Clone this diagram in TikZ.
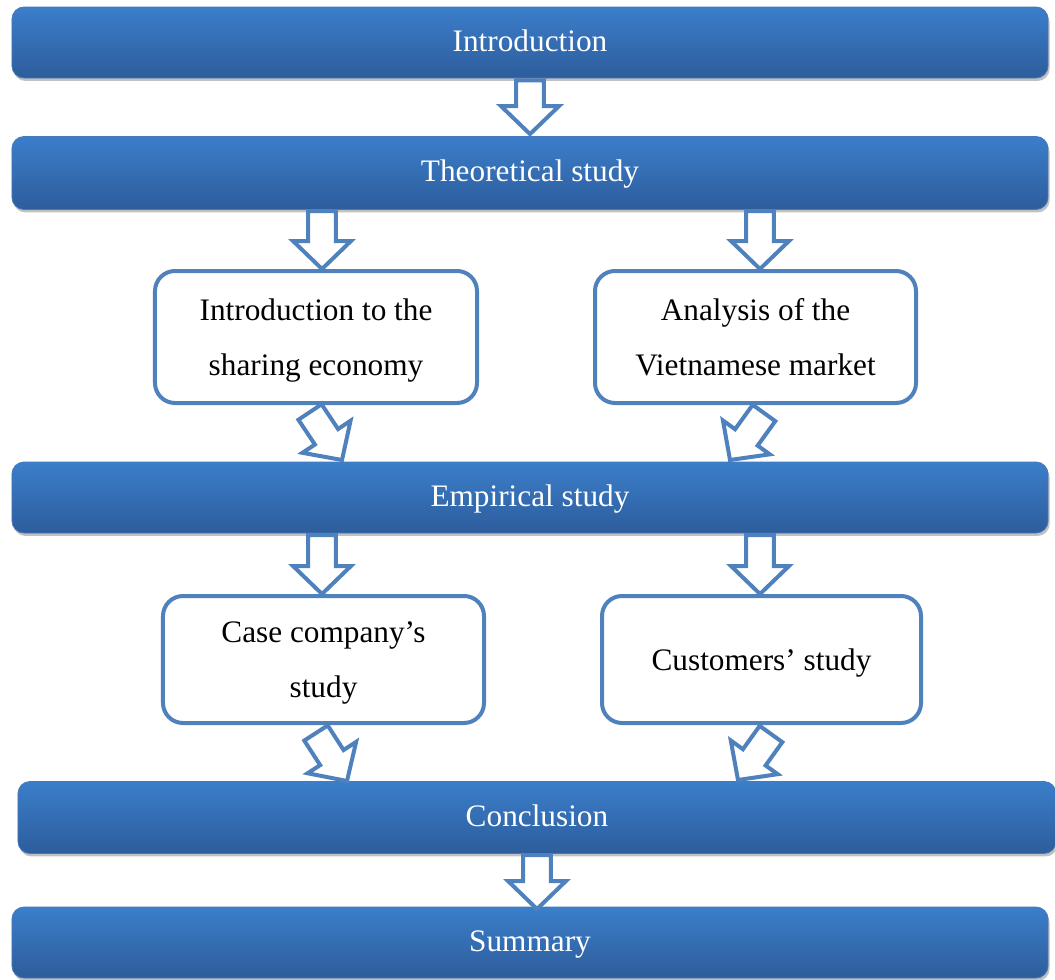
\documentclass[tikz,border=0pt]{standalone}
\usepackage{fontspec}
\setmainfont{Liberation Serif}
\usetikzlibrary{calc,shadows}
\definecolor{bartop}{RGB}{59,126,202}
\definecolor{barbot}{RGB}{45,93,156}
\definecolor{barline}{RGB}{70,120,185}
\definecolor{boxline}{RGB}{79,129,189}
\tikzset{
  bar/.style={rounded corners=12bp, draw=barline, line width=0.8bp,
    top color=bartop, bottom color=barbot, text=white,
    font=\fontsize{31.4}{38}\selectfont, minimum width=1036bp,
    minimum height=71bp, inner sep=0pt, text height=21bp, text depth=4bp,
    drop shadow={shadow xshift=1.5pt, shadow yshift=-3pt, opacity=0.35, fill=black!70}},
  stagebox/.style={rounded corners=20bp, draw=boxline, line width=4bp, fill=white,
    align=center, font=\fontsize{31.4}{55}\selectfont, inner sep=0pt, text depth=0bp},
  barrow/.style={draw=boxline, line width=4bp, fill=white, line join=miter}
}
\newcommand\blockarr[2]{%
  \coordinate (ah) at ($(#2)!28pt!(#1)$);
  \draw[barrow] ($(#1)!14pt!90:(#2)$) -- ($(ah)!14pt!-90:(#1)$) -- ($(ah)!29pt!-90:(#1)$)
    -- (#2) -- ($(ah)!29pt!90:(#1)$) -- ($(ah)!14pt!90:(#1)$) -- ($(#1)!14pt!-90:(#2)$) -- cycle;
}
\begin{document}
\begin{tikzpicture}[x=1bp,y=-1bp]
\useasboundingbox (0,0) rectangle (1055,980);
\node[bar] (intro) at (530,42.5) {Introduction};
\node[bar, minimum height=73bp] (theo) at (530,173) {Theoretical study};
\node[bar] (emp) at (530,497.5) {Empirical study};
\node[bar, minimum width=1038bp, minimum height=72bp] (concl) at (537,817.5) {Conclusion};
\node[bar] (summ) at (530,942.5) {Summary};

\node[stagebox, minimum width=322bp, minimum height=132bp] (b1) at (316,337) {Introduction to the\\sharing economy};
\node[stagebox, minimum width=321bp, minimum height=132bp] (b2) at (755.5,337) {Analysis of the\\Vietnamese market};
\node[stagebox, minimum width=321bp, minimum height=127bp] (b3) at (323.5,659.5) {Case company’s\\study};
\node[stagebox, minimum width=319bp, minimum height=127bp] (b4) at (761.5,659.5) {Customers’ study};

% arrow end points
\coordinate (t1) at ($(intro.south)+(0,2)$);
\coordinate (h1) at ($(theo.north)+(0,-2)$);
\coordinate (t2) at (322,211);
\coordinate (h2) at (322,269);
\coordinate (t3) at (760,211);
\coordinate (h3) at (760,269);
\coordinate (t4) at (310,412);
\coordinate (h4) at (342,460);
\coordinate (t5) at (764,413);
\coordinate (h5) at (730,460);
\coordinate (t6) at (322,535);
\coordinate (h6) at (322,594);
\coordinate (t7) at (760,535);
\coordinate (h7) at (760,594);
\coordinate (t8) at (316,733);
\coordinate (h8) at (347,781);
\coordinate (t9) at (771,734);
\coordinate (h9) at (738,780);
\coordinate (t10) at (537,855);
\coordinate (h10) at (537,909);

\blockarr{t1}{h1}
\blockarr{t2}{h2}
\blockarr{t3}{h3}
\blockarr{t4}{h4}
\blockarr{t5}{h5}
\blockarr{t6}{h6}
\blockarr{t7}{h7}
\blockarr{t8}{h8}
\blockarr{t9}{h9}
\blockarr{t10}{h10}
\end{tikzpicture}
\end{document}
